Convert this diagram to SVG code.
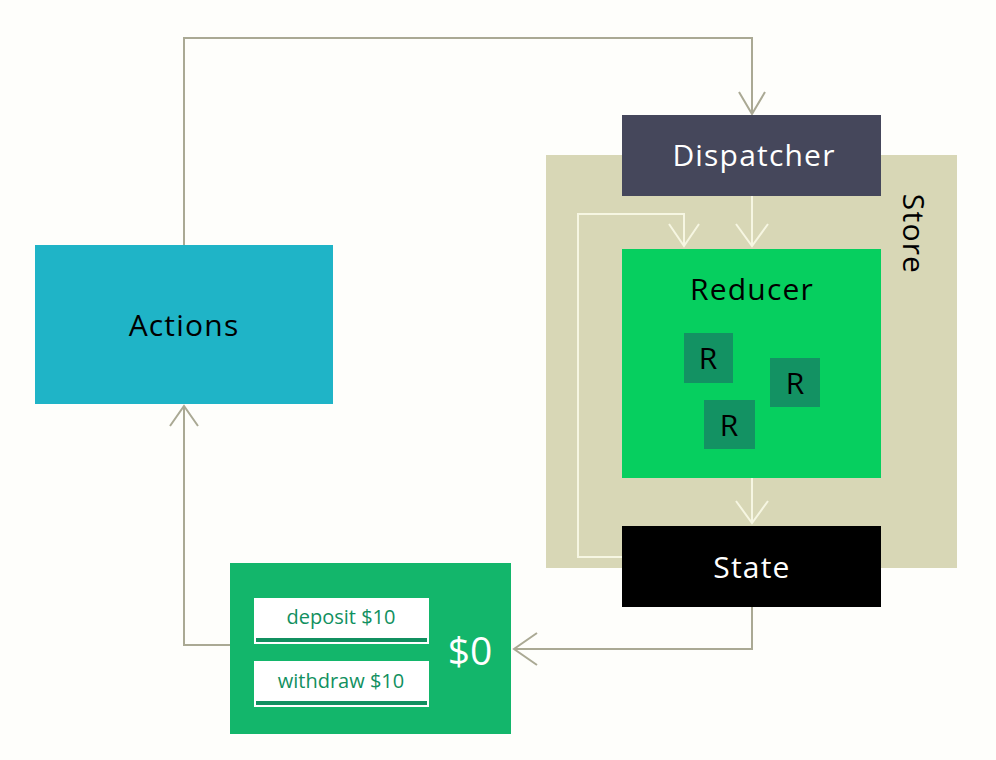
<svg xmlns="http://www.w3.org/2000/svg" width="996" height="760" viewBox="0 0 996 760">
<style>
.lbl{font-family:"Open Sans","Liberation Sans",sans-serif;font-size:30px;letter-spacing:1.2px;text-anchor:middle}
.btn{font-family:"Open Sans","Liberation Sans",sans-serif;font-size:20px;text-anchor:middle;fill:#119060}
.outer{fill:none;stroke:#aaa994;stroke-width:2}
.inner{fill:none;stroke:#f6f6e2;stroke-width:2}
.r{fill:#139263}
.rt{font-family:"Open Sans","Liberation Sans",sans-serif;font-size:30px;text-anchor:middle;fill:#000}
</style>
<rect width="996" height="760" fill="#fefefb"/>
<g id="store">
<rect x="546" y="155" width="411" height="413" fill="#d8d7b6"/>
<text class="lbl" transform="translate(903,234) rotate(90)" fill="#000">Store</text>
</g>
<g id="connectors">
<polyline class="outer" points="184,245 184,38 752,38 752,114"/>
<polyline class="outer" points="739,92 752,114 765,92"/>
<polyline class="inner" points="752,196 752,246"/>
<polyline class="inner" points="736,224 752,246 768,224"/>
<polyline class="inner" points="622,557 578,557 578,214 684,214 684,246"/>
<polyline class="inner" points="669,224 684,246 699,224"/>
<polyline class="inner" points="752,478 752,523"/>
<polyline class="inner" points="736,501 752,523 768,501"/>
<polyline class="outer" points="752,607 752,649 514,649"/>
<polyline class="outer" points="537,633 514,649 537,665"/>
<polyline class="outer" points="230,645 184,645 184,406"/>
<polyline class="outer" points="170,426 184,406 198,426"/>
</g>
<g id="dispatcher">
<rect x="622" y="115" width="259" height="81" fill="#45475b"/>
<text class="lbl" x="754" y="166" fill="#fff">Dispatcher</text>
</g>
<g id="reducer">
<rect x="622" y="249" width="259" height="229" fill="#06cf5f"/>
<text class="lbl" x="752" y="300" fill="#000">Reducer</text>
<rect class="r" x="684" y="333" width="49" height="50"/>
<text class="rt" x="708" y="369">R</text>
<rect class="r" x="770" y="358" width="50" height="49"/>
<text class="rt" x="795" y="394">R</text>
<rect class="r" x="704" y="400" width="51" height="49"/>
<text class="rt" x="729" y="436">R</text>
</g>
<g id="state">
<rect x="622" y="526" width="259" height="81" fill="#000"/>
<text class="lbl" x="752" y="578" fill="#fff">State</text>
</g>
<g id="actions">
<rect x="35" y="245" width="298" height="159" fill="#1fb4c7"/>
<text class="lbl" x="184" y="336" fill="#000">Actions</text>
</g>
<g id="view">
<rect x="230" y="563" width="281" height="171" fill="#13b66b"/>
<rect x="254" y="598" width="175" height="46" fill="#fff"/>
<rect x="256" y="638" width="171" height="4" fill="#119060"/>
<text class="btn" x="341" y="624">deposit $10</text>
<rect x="254" y="661" width="175" height="46" fill="#fff"/>
<rect x="256" y="701" width="171" height="4" fill="#119060"/>
<text class="btn" x="341" y="688">withdraw $10</text>
<text x="470" y="665" font-family="'Open Sans','Liberation Sans',sans-serif" font-size="39" fill="#fff" text-anchor="middle">$0</text>
</g>
</svg>
